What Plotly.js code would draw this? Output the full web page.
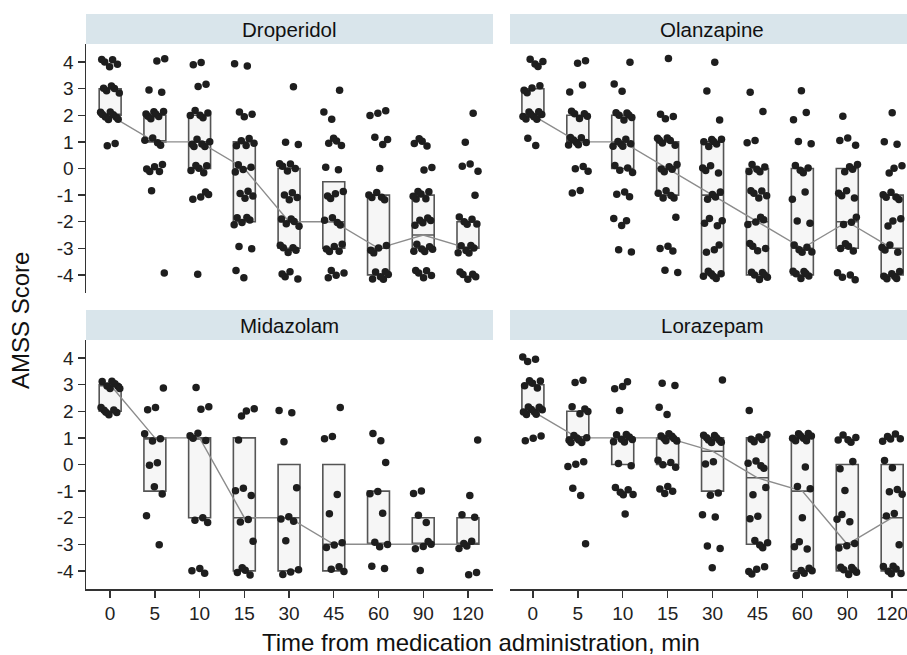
<!DOCTYPE html>
<html>
<head>
<meta charset="utf-8">
<script src="https://cdn.plot.ly/plotly-3.0.1.min.js"></script>
<style>html,body{margin:0;padding:0;background:#fff;}#chart{width:907px;height:655px;}</style>
</head>
<body>
<div id="chart"></div>
<script>
// ---------- data ----------
const times = ['0', '5', '10', '15', '30', '45', '60', '90', '120'];
const scoreLevels = [4, 3, 2, 1, 0, -1, -2, -3, -4];
const panelNames = ['Droperidol', 'Olanzapine', 'Midazolam', 'Lorazepam'];

// counts of patients at each score level (4 .. -4) per time point
const droperidolCounts = [
  [5,5,8,2,0,0,0,0,0],
  [2,2,7,4,5,1,0,0,1],
  [2,2,5,6,5,4,0,0,1],
  [2,0,3,5,4,4,5,2,2],
  [0,1,0,2,5,4,5,5,4],
  [0,1,2,4,2,4,4,5,4],
  [0,0,3,3,1,5,0,4,6],
  [0,0,0,4,2,6,5,6,5],
  [0,0,1,1,3,1,5,6,5]
];
const olanzapineCounts = [
  [4,4,8,2,0,0,0,0,0],
  [2,2,5,7,3,2,0,0,0],
  [1,2,6,6,4,3,3,2,0],
  [1,0,3,6,5,5,1,3,2],
  [1,1,1,6,4,4,4,3,6],
  [0,1,1,2,5,5,4,4,6],
  [0,1,2,2,4,2,2,5,6],
  [0,0,1,3,4,4,3,4,4],
  [0,0,1,2,3,5,3,4,6]
];
const midazolamCounts = [
  [0,7,6,0,0,0,0,0,0],
  [0,1,2,3,2,2,1,1,0],
  [0,1,2,4,0,0,3,0,3],
  [0,0,3,1,0,3,2,1,4],
  [0,0,2,1,0,1,3,1,3],
  [0,0,1,2,0,1,1,3,3],
  [0,0,0,2,1,2,1,3,2],
  [0,0,0,0,0,2,2,4,1],
  [0,0,0,1,0,1,2,4,2]
];
const lorazepamCounts = [
  [3,5,8,3,0,0,0,0,0],
  [0,2,4,7,3,2,0,1,0],
  [0,3,1,7,2,5,1,0,0],
  [0,2,2,7,4,4,0,0,0],
  [0,1,0,8,2,2,2,2,1],
  [0,0,1,5,4,2,2,4,4],
  [0,0,0,8,1,2,1,3,5],
  [0,0,0,5,2,1,3,3,6],
  [0,0,0,5,2,3,2,1,6]
];

// box statistics (Q1, median, Q3) per time point
const droperidolQ1  = [2, 1, 0, -2, -3, -3, -4, -3, -3];
const droperidolMed = [2, 1, 1, 0, -2, -2, -3, -2.5, -3];
const droperidolQ3  = [3, 2, 2, 1, 0, -0.5, -1, -1, -2];

const olanzapineQ1  = [2, 1, 0, -1, -4, -4, -4, -3, -4];
const olanzapineMed = [2, 1, 1, 0, -1, -2, -3, -2, -3];
const olanzapineQ3  = [3, 2, 2, 1, 1, 0, 0, 0, -1];

const midazolamQ1  = [2, -1, -2, -4, -4, -4, -3, -3, -3];
const midazolamMed = [3, 1, 1, -2, -2, -3, -3, -3, -3];
const midazolamQ3  = [3, 1, 1, 1, 0, 0, -1, -2, -2];

const lorazepamQ1  = [2, 1, 0, 0, -1, -3, -4, -4, -4];
const lorazepamMed = [2, 1, 1, 1, 0.5, -0.5, -1, -3, -2];
const lorazepamQ3  = [3, 2, 1, 1, 1, 1, 1, 0, 0];

const yTickVals = [4, 3, 2, 1, 0, -1, -2, -3, -4];
const yTickText = ['4', '3', '2', '1', '0', '-1', '-2', '-3', '-4'];

// ---------- build ----------
const panels = [
  {counts: droperidolCounts, q1: droperidolQ1, med: droperidolMed, q3: droperidolQ3},
  {counts: olanzapineCounts, q1: olanzapineQ1, med: olanzapineMed, q3: olanzapineQ3},
  {counts: midazolamCounts,  q1: midazolamQ1,  med: midazolamMed,  q3: midazolamQ3},
  {counts: lorazepamCounts,  q1: lorazepamQ1,  med: lorazepamMed,  q3: lorazepamQ3}
];
const pos = times.map((t, i) => i);
const frac = v => v - Math.floor(v);

const traces = [];
panels.forEach((p, k) => {
  const xa = k === 0 ? 'x' : 'x' + (k + 1);
  const ya = k === 0 ? 'y' : 'y' + (k + 1);
  traces.push({
    type: 'box', xaxis: xa, yaxis: ya, x: pos,
    q1: p.q1, median: p.med, q3: p.q3, lowerfence: p.q1, upperfence: p.q3,
    width: 0.49, whiskerwidth: 0, boxpoints: false,
    fillcolor: '#f6f6f6', line: {color: '#555555', width: 1.6},
    hoverinfo: 'skip', showlegend: false
  });
  traces.push({
    type: 'scatter', mode: 'lines', xaxis: xa, yaxis: ya, x: pos, y: p.med,
    line: {color: '#8c8c8c', width: 1.4}, hoverinfo: 'skip', showlegend: false
  });
  // jittered points (deterministic jitter sequence for display only)
  const px = [], py = [];
  let n = 0;
  p.counts.forEach((row, ti) => {
    row.forEach((c, li) => {
      for (let j = 0; j < c; j++) {
        n++;
        px.push(ti + (frac(n * 0.6180339887 + 0.13 * k) - 0.5) * 0.46);
        py.push(scoreLevels[li] + (frac(n * 0.7548776662 + 0.29 * k) - 0.5) * 0.36);
      }
    });
  });
  traces.push({
    type: 'scatter', mode: 'markers', xaxis: xa, yaxis: ya, x: px, y: py,
    marker: {size: 7.5, color: '#1e1e1e'}, hoverinfo: 'skip', showlegend: false
  });
});

const W = 907, H = 655;
const fx = v => v / W;
const fy = v => 1 - v / H;
const fontFam = 'Liberation Sans, Arial, Helvetica, sans-serif';

const yBase = {
  range: [-4.68, 4.68], tickvals: yTickVals, ticktext: yTickText,
  showgrid: false, zeroline: false, fixedrange: true
};
const yShown = Object.assign({}, yBase, {
  showline: true, linecolor: '#333', linewidth: 1.5,
  ticks: 'outside', ticklen: 7, tickwidth: 1.4, tickcolor: '#333',
  tickfont: {size: 19, color: '#222', family: fontFam}
});
const yHidden = Object.assign({}, yBase, {showline: false, showticklabels: false, ticks: ''});
const xBase = {
  tickvals: pos, ticktext: times, showgrid: false, zeroline: false, fixedrange: true
};
const xShown = {
  showline: true, linecolor: '#333', linewidth: 1.5,
  ticks: 'outside', ticklen: 7, tickwidth: 1.4, tickcolor: '#333',
  tickfont: {size: 19, color: '#222', family: fontFam},
  ticklabeloverflow: 'allow'
};
const xHidden = {showline: false, showticklabels: false, ticks: ''};

const topDom = [fy(293), fy(44)];
const botDom = [fy(589), fy(340)];
const leftDom = [fx(86), fx(493)];
const rightDom = [fx(510), 1];
const leftRange = [-0.54, 8.56];
const rightRange = [-0.51, 8.33];

const stripFont = {size: 20.5, color: '#111', family: fontFam};
const layout = {
  width: W, height: H,
  margin: {l: 0, r: 0, t: 0, b: 0},
  paper_bgcolor: '#fff', plot_bgcolor: '#fff',
  font: {family: fontFam, color: '#111'},
  showlegend: false,
  xaxis:  Object.assign({}, xBase, xHidden, {domain: leftDom,  range: leftRange,  anchor: 'y'}),
  yaxis:  Object.assign({}, yShown, {domain: topDom, anchor: 'x'}),
  xaxis2: Object.assign({}, xBase, xHidden, {domain: rightDom, range: rightRange, anchor: 'y2'}),
  yaxis2: Object.assign({}, yHidden, {domain: topDom, anchor: 'x2'}),
  xaxis3: Object.assign({}, xBase, xShown, {domain: leftDom,  range: leftRange,  anchor: 'y3'}),
  yaxis3: Object.assign({}, yShown, {domain: botDom, anchor: 'x3'}),
  xaxis4: Object.assign({}, xBase, xShown, {domain: rightDom, range: rightRange, anchor: 'y4'}),
  yaxis4: Object.assign({}, yHidden, {domain: botDom, anchor: 'x4'}),
  shapes: [
    {type: 'rect', xref: 'paper', yref: 'paper', x0: fx(86), x1: fx(493), y0: fy(44), y1: fy(14), fillcolor: '#d9e5eb', line: {width: 0}, layer: 'below'},
    {type: 'rect', xref: 'paper', yref: 'paper', x0: fx(510), x1: 1, y0: fy(44), y1: fy(14), fillcolor: '#d9e5eb', line: {width: 0}, layer: 'below'},
    {type: 'rect', xref: 'paper', yref: 'paper', x0: fx(86), x1: fx(493), y0: fy(340), y1: fy(310), fillcolor: '#d9e5eb', line: {width: 0}, layer: 'below'},
    {type: 'rect', xref: 'paper', yref: 'paper', x0: fx(510), x1: 1, y0: fy(340), y1: fy(310), fillcolor: '#d9e5eb', line: {width: 0}, layer: 'below'}
  ],
  annotations: [
    {text: panelNames[0], xref: 'paper', yref: 'paper', x: fx(289.5), y: fy(29), xanchor: 'center', yanchor: 'middle', showarrow: false, font: stripFont},
    {text: panelNames[1], xref: 'paper', yref: 'paper', x: fx(712), y: fy(29), xanchor: 'center', yanchor: 'middle', showarrow: false, font: stripFont},
    {text: panelNames[2], xref: 'paper', yref: 'paper', x: fx(289.5), y: fy(325), xanchor: 'center', yanchor: 'middle', showarrow: false, font: stripFont},
    {text: panelNames[3], xref: 'paper', yref: 'paper', x: fx(712), y: fy(325), xanchor: 'center', yanchor: 'middle', showarrow: false, font: stripFont},
    {text: 'Time from medication administration, min', xref: 'paper', yref: 'paper', x: fx(481), y: fy(642), xanchor: 'center', yanchor: 'middle', showarrow: false, font: {size: 24, color: '#111', family: fontFam}},
    {text: 'AMSS Score', xref: 'paper', yref: 'paper', x: fx(20), y: fy(321), xanchor: 'center', yanchor: 'middle', textangle: -90, showarrow: false, font: {size: 24, color: '#111', family: fontFam}}
  ]
};

Plotly.newPlot('chart', traces, layout, {displayModeBar: false, staticPlot: true});
</script>
</body>
</html>
